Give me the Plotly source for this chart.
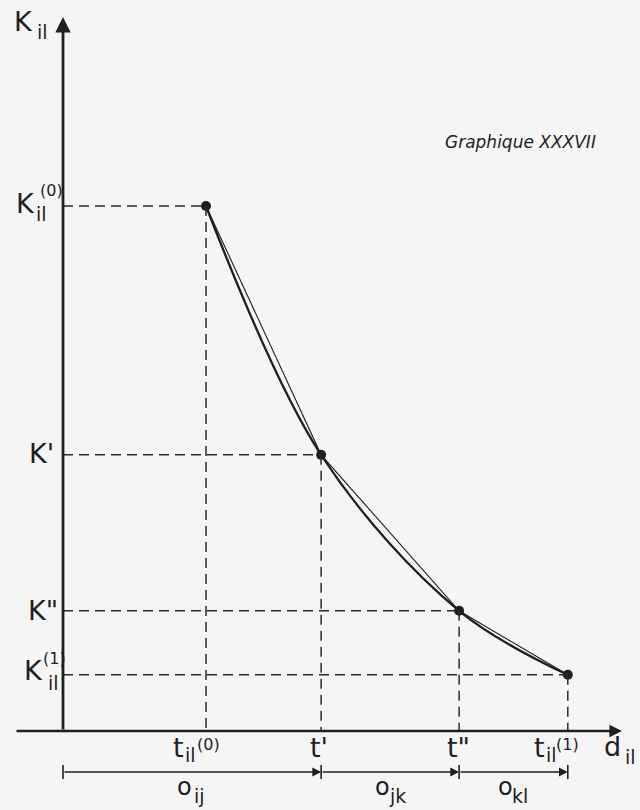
import plotly.graph_objects as go

# Break points of the cost curve: distance d_il and cost K_il
t_values = [2.0, 3.61, 5.54, 7.06]
K_values = [10.0, 5.26, 2.29, 1.07]

# Tick labels as (base, subscript, superscript)
t_ticks = [("t", "il", "(0)"), ("t'", "", ""), ('t"', "", ""), ("t", "il", "(1)")]
K_ticks = [("K", "il", "(0)"), ("K'", "", ""), ('K"', "", ""), ("K", "il", "(1)")]
# Distance segments along the d axis: (base, subscript)
segment_labels = [("o", "ij"), ("o", "jk"), ("o", "kl")]

W, H = 640, 810
X0_PX, PX_PER_X = 63, 71.5
Y0_PX, PX_PER_Y = 731, 52.5
INK = "#1f1f1f"
FONT = "DejaVu Sans"
BASE_SIZE, SUB_SIZE, SUP_SIZE = 27, 19, 16


def dx(px):
    return (px - X0_PX) / PX_PER_X


def dy(py):
    return (Y0_PX - py) / PX_PER_Y


def px_paper(px):
    return px / W


def py_paper(py):
    return 1 - py / H


fig = go.Figure()

# smooth cost curve
fig.add_trace(go.Scatter(
    x=t_values, y=K_values, mode="lines",
    line=dict(shape="spline", smoothing=1.0, width=2.3, color=INK),
    hoverinfo="skip", showlegend=False))
# straight-line approximation between break points
fig.add_trace(go.Scatter(
    x=t_values, y=K_values, mode="lines",
    line=dict(width=1.1, color=INK),
    hoverinfo="skip", showlegend=False))
fig.add_trace(go.Scatter(
    x=t_values, y=K_values, mode="markers",
    marker=dict(size=10, color=INK),
    hoverinfo="skip", showlegend=False))

shapes = []
dash = "10px,6px"
for t, k in zip(t_values, K_values):
    shapes.append(dict(type="line", x0=0, x1=t, y0=k, y1=k,
                       line=dict(color="#2a2a2a", width=1.5, dash=dash)))
    shapes.append(dict(type="line", x0=t, x1=t, y0=k, y1=0,
                       line=dict(color="#2a2a2a", width=1.5, dash=dash)))

# dimension line below the axis
bounds = [0.0] + t_values[1:]
dim_y = dy(772)
for b in bounds:
    shapes.append(dict(type="line", x0=b, x1=b, y0=dy(765), y1=dy(779),
                       line=dict(color=INK, width=1.6)))

annotations = []

# axes with arrowheads
annotations.append(dict(x=0, y=dy(17), ax=0, ay=0, xref="x", yref="y",
                        axref="x", ayref="y", text="", showarrow=True,
                        arrowhead=2, arrowwidth=2.8, arrowsize=1.1,
                        arrowcolor=INK, standoff=0))
annotations.append(dict(x=dx(622), y=0, ax=dx(15), ay=0, xref="x", yref="y",
                        axref="x", ayref="y", text="", showarrow=True,
                        arrowhead=2, arrowwidth=2.3, arrowsize=1.1,
                        arrowcolor=INK, standoff=0))

for a, b in zip(bounds[:-1], bounds[1:]):
    annotations.append(dict(x=b, y=dim_y, ax=a, ay=dim_y, xref="x", yref="y",
                            axref="x", ayref="y", text="", showarrow=True,
                            arrowhead=2, arrowwidth=1.6, arrowsize=1.1,
                            arrowcolor=INK, standoff=0))


def txt(text, x, y, size, xref="paper", yref="paper", xshift=0, yshift=0,
        italic=False):
    if italic:
        text = "<i>" + text + "</i>"
    annotations.append(dict(text=text, x=x, y=y, xref=xref, yref=yref,
                            xshift=xshift, yshift=yshift, showarrow=False,
                            xanchor="center", yanchor="middle",
                            borderpad=0,
                            font=dict(family=FONT, size=size, color=INK)))


# axis titles
txt("K", px_paper(23), py_paper(22), BASE_SIZE)
txt("il", px_paper(42), py_paper(32), SUB_SIZE)
txt("d", px_paper(612), py_paper(746), BASE_SIZE)
txt("il", px_paper(630), py_paper(757), SUB_SIZE)

# K tick labels (left of the vertical axis)
k_layout = [
    dict(base=(25, -3), sub=(41, 8), sup=(51, -16)),
    dict(base=(41, -1)),
    dict(base=(43, 0)),
    dict(base=(33, -4), sub=(53, 8), sup=(54, -16)),
]
for (base, sub, sup), k, lay in zip(K_ticks, K_values, k_layout):
    bx, by = lay["base"]
    txt(base, px_paper(bx), k, BASE_SIZE, yref="y", yshift=-by)
    if sub:
        sx, sy = lay["sub"]
        txt(sub, px_paper(sx), k, SUB_SIZE, yref="y", yshift=-sy)
    if sup:
        ux, uy = lay["sup"]
        txt(sup, px_paper(ux), k, SUP_SIZE, yref="y", yshift=-uy)

# t tick labels (below the horizontal axis)
t_layout = [
    dict(base=-28, sub=-16, sup=2),
    dict(base=-2),
    dict(base=-1),
    dict(base=-28, sub=-16, sup=0),
]
for (base, sub, sup), t, lay in zip(t_ticks, t_values, t_layout):
    txt(base, t, py_paper(747), BASE_SIZE, xref="x", xshift=lay["base"])
    if sub:
        txt(sub, t, py_paper(755), SUB_SIZE, xref="x", xshift=lay["sub"])
    if sup:
        txt(sup, t, py_paper(744), SUP_SIZE, xref="x", xshift=lay["sup"])

# segment labels under the dimension line
for (base, sub), a, b in zip(segment_labels, bounds[:-1], bounds[1:]):
    mid = (a + b) / 2
    txt(base, mid, py_paper(787), 24, xref="x", xshift=-8)
    txt(sub, mid, py_paper(796), SUB_SIZE, xref="x", xshift=7)

txt("Graphique XXXVII", px_paper(520), py_paper(142), 17, italic=True)

fig.update_layout(
    width=W, height=H,
    margin=dict(l=0, r=0, t=0, b=0),
    paper_bgcolor="#f5f5f5", plot_bgcolor="#f5f5f5",
    xaxis=dict(range=[dx(0), dx(W)], visible=False, fixedrange=True),
    yaxis=dict(range=[dy(H), dy(0)], visible=False, fixedrange=True),
    shapes=shapes, annotations=annotations, showlegend=False,
)

fig.write_html("out.html")
